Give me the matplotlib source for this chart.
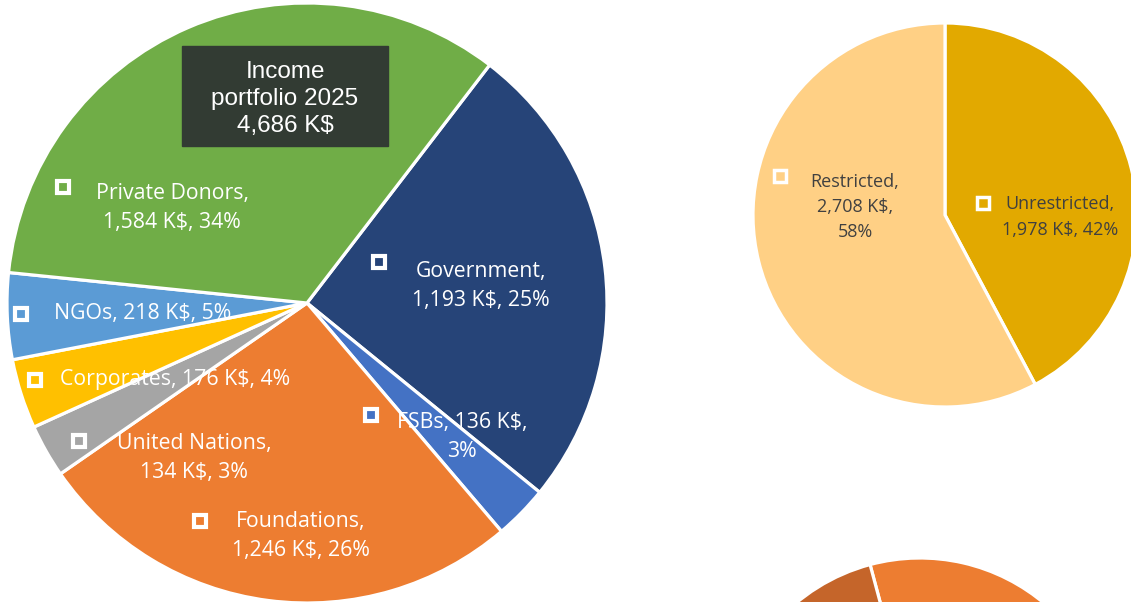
import matplotlib
matplotlib.use("Agg")
import matplotlib.pyplot as plt

# income by source, K$
sources = ["Government", "FSBs", "Foundations", "United Nations",
           "Corporates", "NGOs", "Private Donors"]
amounts = [1193, 136, 1246, 134, 176, 218, 1584]
shares = [25, 3, 26, 3, 4, 5, 34]
src_colors = ["#264478", "#4472C4", "#ED7D31", "#A5A5A5",
              "#FFC000", "#5B9BD5", "#70AD47"]

# restricted / unrestricted split
kinds = ["Unrestricted", "Restricted"]
kind_amounts = [1978, 2708]
kind_shares = [42, 58]
kind_colors = ["#E2A900", "#FFD085"]

# third pie, only its top edge shows
third_amounts = [62, 38]
third_colors = ["#ED7D31", "#C5652A"]

total = 4686

W, H = 1131, 602
fig = plt.figure(figsize=(W / 100, H / 100), dpi=100)
ax = fig.add_axes([0, 0, 1, 1])

wp = dict(edgecolor="white", linewidth=2.3)
ax.pie(amounts, colors=src_colors, startangle=52.5, counterclock=False,
       center=(307, H - 303), radius=300, wedgeprops=wp)
ax.pie(kind_amounts, colors=kind_colors, startangle=90, counterclock=False,
       center=(945, H - 215), radius=192, wedgeprops=wp)
ax.pie(third_amounts, colors=third_colors, startangle=105, counterclock=False,
       center=(920, H - 751), radius=193, wedgeprops=wp)

ax.set_xlim(0, W)
ax.set_ylim(0, H)
ax.set_aspect("equal")
ax.axis("off")

font = ["Open Sans", "DejaVu Sans"]

# label layout: marker position, text centre, text lines
src_text = [
    "Government,\n{:,} K$, {}%",
    "FSBs, {:,} K$,\n{}%",
    "Foundations,\n{:,} K$, {}%",
    "United Nations,\n{:,} K$, {}%",
    "Corporates, {:,} K$, {}%",
    "NGOs, {:,} K$, {}%",
    "Private Donors,\n{:,} K$, {}%",
]
src_marker = [(379, 262), (371, 415), (200, 521), (79, 441),
              (35, 380), (21, 314), (63, 187)]
src_pos = [(481, 286), (462, 437), (301, 536), (194, 458),
           (175, 380), (143, 313), (172, 208)]

for i in range(len(sources)):
    mx, my = src_marker[i]
    ax.plot(mx, H - my, marker="s", markersize=9, markerfacecolor=src_colors[i],
            markeredgecolor="white", markeredgewidth=3)
    tx, ty = src_pos[i]
    ax.text(tx, H - ty, src_text[i].format(amounts[i], shares[i]),
            ha="center", va="center", color="white", fontsize=15.3,
            family=font, linespacing=1.55)

kind_text = ["Unrestricted,\n{:,} K$, {}%", "Restricted,\n{:,} K$,\n{}%"]
kind_marker = [(983, 203), (780, 176)]
kind_pos = [(1060, 217), (855, 207)]
for i in range(len(kinds)):
    mx, my = kind_marker[i]
    ax.plot(mx, H - my, marker="s", markersize=8, markerfacecolor=kind_colors[i],
            markeredgecolor="white", markeredgewidth=2.5)
    tx, ty = kind_pos[i]
    ax.text(tx, H - ty, kind_text[i].format(kind_amounts[i], kind_shares[i]),
            ha="center", va="center", color="#404040", fontsize=13,
            family=font, linespacing=1.52)

# title box
ax.add_patch(plt.Rectangle((182, H - 146), 206, 100, color="#323B33", zorder=3))
ax.text(285, H - 99, "Income\nportfolio 2025\n{:,} K$".format(total),
        ha="center", va="center", color="white", fontsize=17.5,
        family=["Liberation Sans", "DejaVu Sans"], linespacing=1.3, zorder=4)

fig.savefig("out.png", dpi=100)
